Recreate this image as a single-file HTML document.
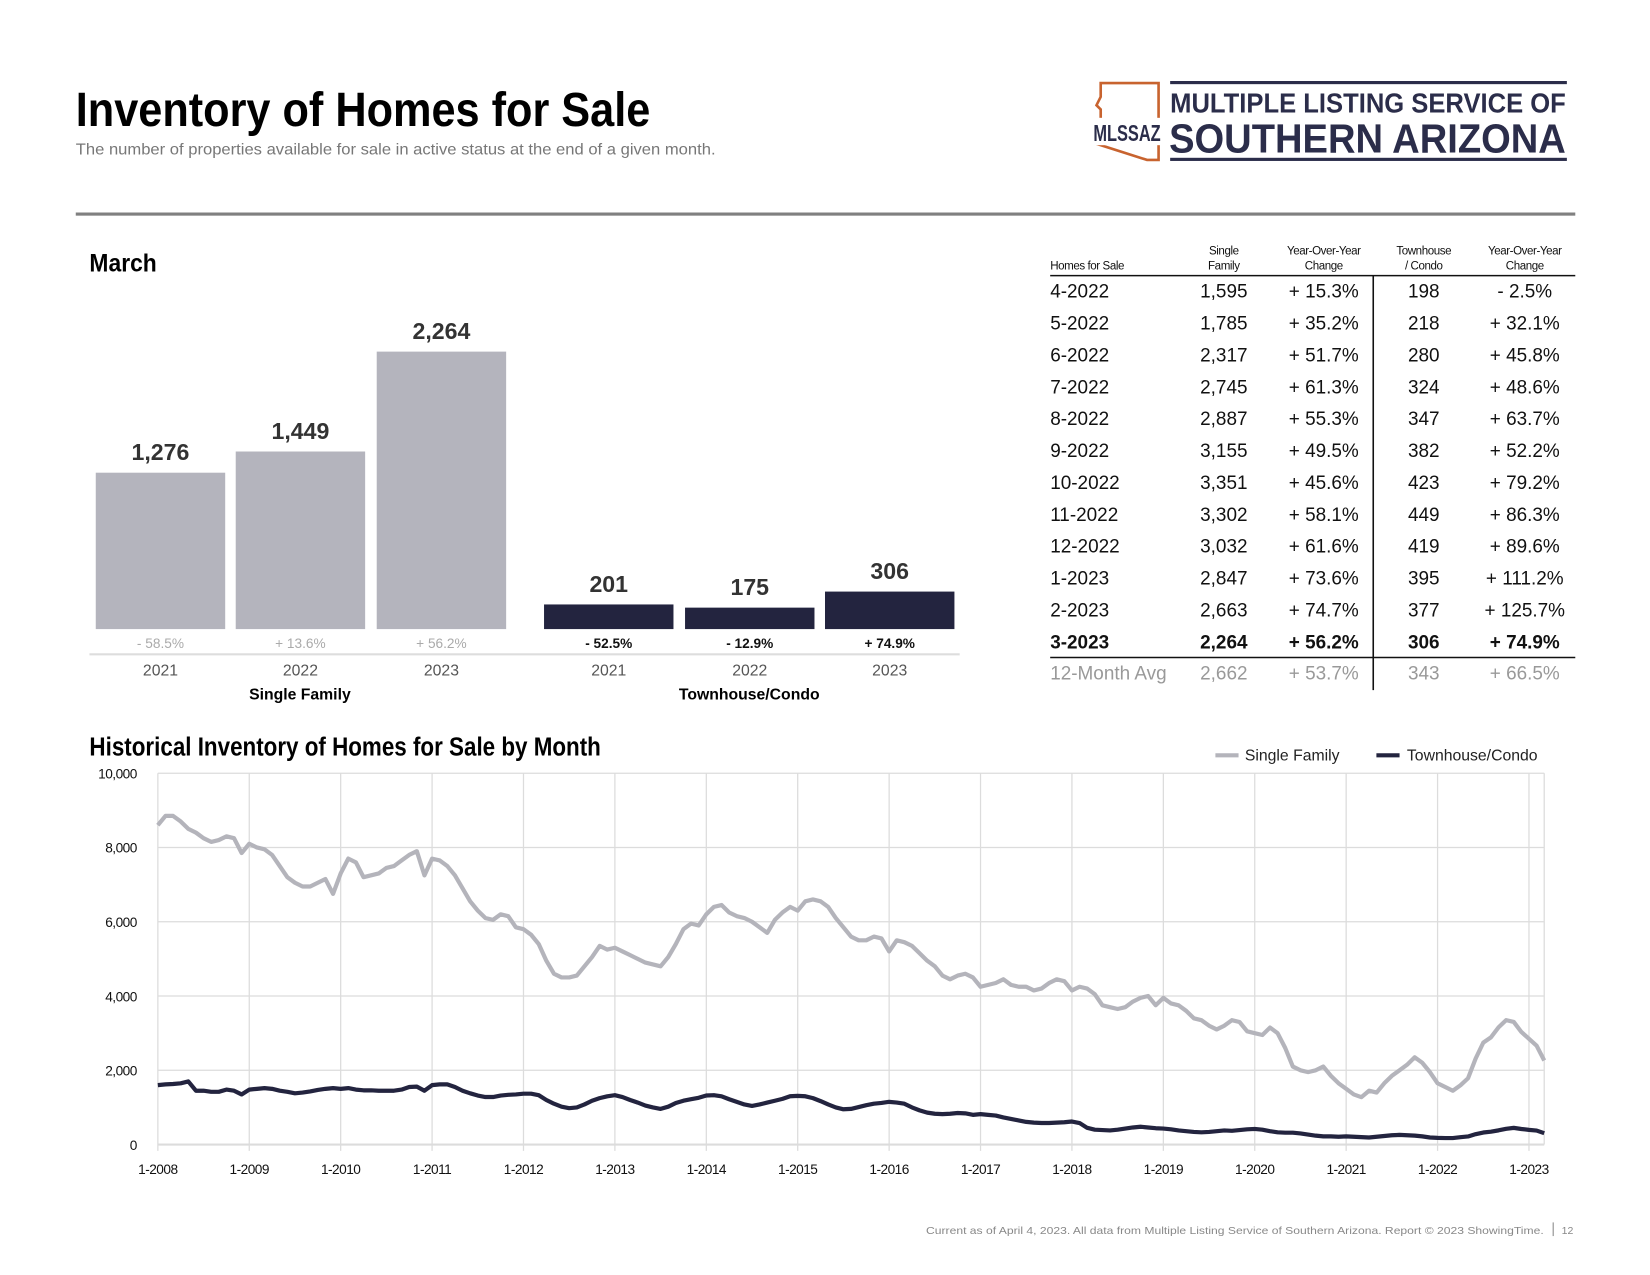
<!DOCTYPE html>
<html><head><meta charset="utf-8">
<style>
html,body{margin:0;padding:0;background:#fff;}
svg{display:block;font-family:"Liberation Sans",sans-serif;}
.narrow{font-family:"Liberation Sans Narrow","Liberation Sans",sans-serif;}
</style></head>
<body>
<svg id="page" width="1650" height="1275" viewBox="0 0 1568 1212" preserveAspectRatio="none" xmlns="http://www.w3.org/2000/svg">
  <text class="narrow" x="72" y="120" font-size="46" font-weight="bold" fill="#000" textLength="546" lengthAdjust="spacingAndGlyphs">Inventory of Homes for Sale</text>
  <text class="narrow" x="72" y="147" font-size="15" fill="#777" textLength="608" lengthAdjust="spacingAndGlyphs">The number of properties available for sale in active status at the end of a given month.</text>
  <g>
    <path d="M1046 79 L1101 79 L1101 152 L1090 152 L1043 137 L1043 128 L1046 124 L1046 104 L1042 100 L1046 92 Z" fill="none" stroke="#c8632f" stroke-width="2.5"/>
    <rect x="1038" y="112" width="66" height="26" fill="#fff"/>
    <text x="1071" y="134" class="narrow" font-size="22" font-weight="bold" fill="#2b2d4a" text-anchor="middle" textLength="64" lengthAdjust="spacingAndGlyphs">MLSSAZ</text>
    <rect x="1112" y="77" width="377" height="3" fill="#2b2d4a"/>
    <rect x="1112" y="150" width="377" height="3" fill="#2b2d4a"/>
    <text x="1112" y="107" class="narrow" font-size="26" font-weight="bold" fill="#2b2d4a" textLength="376" lengthAdjust="spacingAndGlyphs">MULTIPLE LISTING SERVICE OF</text>
    <text x="1111" y="145" class="narrow" font-size="39" font-weight="bold" fill="#2b2d4a" textLength="377" lengthAdjust="spacingAndGlyphs">SOUTHERN ARIZONA</text>
  </g>
  <rect x="72" y="202" width="1425" height="3" fill="#808080"/>

  <text class="narrow" x="85" y="258" font-size="24" font-weight="bold" fill="#000" textLength="64" lengthAdjust="spacingAndGlyphs">March</text>
  <g id="bars"></g>

  <g id="table"></g>

  <text class="narrow" x="85" y="718" font-size="25" font-weight="bold" fill="#000" textLength="486" lengthAdjust="spacingAndGlyphs">Historical Inventory of Homes for Sale by Month</text>
  <g>
    <g>
      <line x1="1155" y1="718" x2="1177" y2="718" stroke="#b4b4bb" stroke-width="4"/>
      <text x="1183" y="723" font-size="15" fill="#222">Single Family</text>
    </g>
    <g>
      <line x1="1308" y1="718" x2="1330" y2="718" stroke="#23243f" stroke-width="4"/>
      <text x="1337" y="723" font-size="15" fill="#222">Townhouse/Condo</text>
    </g>
  </g>
  <g id="line"></g>

  <text x="1467" y="1173" font-size="10" fill="#888" text-anchor="end" textLength="587" lengthAdjust="spacingAndGlyphs">Current as of April 4, 2023. All data from Multiple Listing Service of Southern Arizona. Report © 2023 ShowingTime.</text>
  <line x1="1476" y1="1162" x2="1476" y2="1175" stroke="#888" stroke-width="1"/>
  <text x="1484" y="1173" font-size="10" fill="#888">12</text>
</svg>
<script>
const NS = "http://www.w3.org/2000/svg";
// ---- bar chart data ----
const barYears = ["2021", "2022", "2023"];
const sfValues = [1276, 1449, 2264];
const sfChanges = ["- 58.5%", "+ 13.6%", "+ 56.2%"];
const thValues = [201, 175, 306];
const thChanges = ["- 52.5%", "- 12.9%", "+ 74.9%"];
// ---- table data ----
const tableMonths = ["4-2022","5-2022","6-2022","7-2022","8-2022","9-2022","10-2022","11-2022","12-2022","1-2023","2-2023","3-2023"];
const tableSF = ["1,595","1,785","2,317","2,745","2,887","3,155","3,351","3,302","3,032","2,847","2,663","2,264"];
const tableSFChg = ["+ 15.3%","+ 35.2%","+ 51.7%","+ 61.3%","+ 55.3%","+ 49.5%","+ 45.6%","+ 58.1%","+ 61.6%","+ 73.6%","+ 74.7%","+ 56.2%"];
const tableTH = ["198","218","280","324","347","382","423","449","419","395","377","306"];
const tableTHChg = ["- 2.5%","+ 32.1%","+ 45.8%","+ 48.6%","+ 63.7%","+ 52.2%","+ 79.2%","+ 86.3%","+ 89.6%","+ 111.2%","+ 125.7%","+ 74.9%"];
const tableAvg = ["12-Month Avg","2,662","+ 53.7%","343","+ 66.5%"];
// ---- line chart data (monthly, 1-2008 .. 3-2023) ----
const xTickLabels = ["1-2008","1-2009","1-2010","1-2011","1-2012","1-2013","1-2014","1-2015","1-2016","1-2017","1-2018","1-2019","1-2020","1-2021","1-2022","1-2023"];
const yTickValues = [0, 2000, 4000, 6000, 8000, 10000];
const singleFamily = [
8600,8850,8850,8700,8500,8400,8250,8150,8200,8300,8250,7850,
8100,8000,7950,7800,7500,7200,7050,6950,6950,7050,7150,6750,
7300,7700,7600,7200,7250,7300,7450,7500,7650,7800,7900,7250,
7700,7650,7500,7250,6900,6550,6300,6100,6050,6200,6150,5850,
5800,5650,5400,4950,4600,4500,4500,4550,4800,5050,5350,5250,
5300,5200,5100,5000,4900,4850,4800,5050,5400,5800,5950,5900,
6200,6400,6450,6250,6150,6100,6000,5850,5700,6050,6250,6400,
6300,6550,6600,6550,6400,6100,5850,5600,5500,5500,5600,5550,
5200,5500,5450,5350,5150,4950,4800,4550,4450,4550,4600,4500,
4250,4300,4350,4450,4300,4250,4250,4150,4200,4350,4450,4400,
4150,4250,4200,4050,3750,3700,3650,3700,3850,3950,4000,3750,
3950,3800,3750,3600,3400,3350,3200,3100,3200,3350,3300,3050,
3000,2950,3150,3000,2600,2100,2000,1950,2000,2100,1850,1650,
1500,1350,1276,1450,1400,1650,1850,2000,2150,2350,2200,1950,
1650,1550,1449,1595,1785,2317,2745,2887,3155,3351,3302,3032,
2847,2663,2264];
const townhouse = [
1600,1620,1630,1650,1700,1450,1450,1420,1420,1480,1450,1350,
1480,1500,1520,1500,1450,1420,1380,1400,1430,1470,1500,1520,
1500,1520,1480,1460,1460,1450,1450,1450,1480,1550,1560,1450,
1600,1620,1620,1550,1450,1380,1320,1280,1280,1320,1340,1350,
1370,1370,1330,1200,1100,1020,980,1000,1080,1180,1250,1300,
1330,1280,1200,1130,1050,1000,960,1020,1120,1180,1220,1260,
1320,1330,1300,1220,1150,1080,1040,1080,1130,1180,1230,1300,
1310,1300,1250,1170,1080,1000,950,960,1010,1060,1100,1120,
1150,1130,1100,1000,920,860,830,820,830,850,840,800,
820,800,780,730,690,650,610,590,580,580,590,600,
620,580,450,400,390,380,400,430,460,480,460,440,
430,410,380,360,340,330,340,360,380,370,390,410,
420,400,360,330,320,320,300,270,240,220,220,210,
220,210,201,190,210,230,250,260,250,240,220,190,
180,175,175,198,218,280,324,347,382,423,449,419,
395,377,306];

function mk(tag, attrs, parent, text) {
  const e = document.createElementNS(NS, tag);
  for (const k in attrs) e.setAttribute(k, attrs[k]);
  if (text !== undefined) e.textContent = text;
  parent.appendChild(e);
  return e;
}

// ---- bars ----
const bars = document.getElementById('bars');
const barBase = 598, barScale = 0.1165, barW = 123;
const sfX = [91, 224, 358], thX = [517, 651, 784];
function barY(v) { return barBase - v * barScale; }
function drawGroup(vals, chg, xs, color, pctColor, pctWeight, key) {
  vals.forEach((v, i) => {
    const r = mk('rect', {x: xs[i], y: barY(v), width: barW, height: barBase - barY(v), fill: color}, bars);
    
    
    const t = mk('text', {x: xs[i] + barW / 2, y: barY(v) - 12, 'font-size': 22, 'font-weight': 'bold', fill: '#333', 'text-anchor': 'middle'}, bars, v.toLocaleString('en-US'));
    
    
    const p = mk('text', {x: xs[i] + barW / 2, y: 616, 'font-size': 13, 'font-weight': pctWeight, fill: pctColor, 'text-anchor': 'middle'}, bars, chg[i]);
    
    
    const y = mk('text', {x: xs[i] + barW / 2, y: 642, 'font-size': 15, fill: '#555', 'text-anchor': 'middle'}, bars, barYears[i]);
    
    
  });
}
drawGroup(sfValues, sfChanges, sfX, '#b4b4bd', '#aaa', 'normal', 'single-family');
drawGroup(thValues, thChanges, thX, '#23243f', '#111', 'bold', 'townhouse');
const ax = mk('line', {x1: 85, y1: 622, x2: 912, y2: 622, stroke: '#ddd', 'stroke-width': 2}, bars);


const g1 = mk('text', {x: 285, y: 665, 'font-size': 15, 'font-weight': 'bold', fill: '#000', 'text-anchor': 'middle'}, bars, 'Single Family');


const g2 = mk('text', {x: 712, y: 665, 'font-size': 15, 'font-weight': 'bold', fill: '#000', 'text-anchor': 'middle'}, bars, 'Townhouse/Condo');



// ---- table ----
const tbl = document.getElementById('table');
const colX = [998, 1163, 1258, 1353, 1449];
const heads = [["Homes for Sale"], ["Single", "Family"], ["Year-Over-Year", "Change"], ["Townhouse", "/ Condo"], ["Year-Over-Year", "Change"]];
heads.forEach((h, i) => {
  h.forEach((line, j) => {
    const y = h.length === 1 ? 256 : 242 + j * 14;
    const t = mk('text', {x: colX[i], y: y, 'font-size': 11, fill: '#111', 'text-anchor': i === 0 ? 'start' : 'middle', 'letter-spacing': '-0.4'}, tbl, line);
    
    
  });
});
const hl = mk('line', {x1: 998, y1: 262, x2: 1497, y2: 262, stroke: '#111', 'stroke-width': 1.5}, tbl);


const vl = mk('line', {x1: 1305, y1: 262, x2: 1305, y2: 656, stroke: '#111', 'stroke-width': 1.5}, tbl);


tableMonths.forEach((m, r) => {
  const y = 283 + r * 30.3;
  const bold = r === tableMonths.length - 1;
  const cells = [m, tableSF[r], tableSFChg[r], tableTH[r], tableTHChg[r]];
  cells.forEach((c, i) => {
    const t = mk('text', {x: colX[i], y: y, 'font-size': 18, fill: '#111', 'font-weight': bold ? 'bold' : 'normal', 'text-anchor': i === 0 ? 'start' : 'middle'}, tbl, c);
    
    
  });
});
const bl = mk('line', {x1: 998, y1: 625, x2: 1497, y2: 625, stroke: '#111', 'stroke-width': 1.5}, tbl);


tableAvg.forEach((c, i) => {
  const t = mk('text', {x: colX[i], y: 646, 'font-size': 18, fill: '#999', 'text-anchor': i === 0 ? 'start' : 'middle'}, tbl, c);
  
  
});

// ---- line chart ----
const lc = document.getElementById('line');
const x0 = 150, monthW = (1453 - 150) / 180, yZero = 1088, yTop = 735, yMax = 10000;
function xm(i) { return x0 + i * monthW; }
function yv(v) { return yZero - (v / yMax) * (yZero - yTop); }
const lastX = xm(singleFamily.length - 1);
yTickValues.forEach(v => {
  const l = mk('line', {x1: x0, y1: yv(v), x2: lastX, y2: yv(v), stroke: '#dcdcdc', 'stroke-width': v === 0 ? 2 : 1.2}, lc);
  
  
  const t = mk('text', {x: 130, y: yv(v) + 5, 'font-size': 13, fill: '#111', 'text-anchor': 'end', 'letter-spacing': '-0.5'}, lc, v.toLocaleString('en-US'));
  
  
});
xTickLabels.forEach((lab, i) => {
  const x = xm(i * 12);
  const l = mk('line', {x1: x, y1: yTop, x2: x, y2: yZero + 6, stroke: '#dcdcdc', 'stroke-width': 1.2}, lc);
  
  
  const t = mk('text', {x: x, y: 1116, 'font-size': 13, fill: '#111', 'text-anchor': 'middle', 'letter-spacing': '-0.5'}, lc, lab);
  
  
});
const rb = mk('line', {x1: lastX, y1: yTop, x2: lastX, y2: yZero, stroke: '#dcdcdc', 'stroke-width': 1.2}, lc);


function path(vals) { return vals.map((v, i) => (i ? 'L' : 'M') + xm(i).toFixed(2) + ' ' + yv(v).toFixed(2)).join(' '); }
const sfl = mk('path', {d: path(singleFamily), fill: 'none', stroke: '#b4b4bb', 'stroke-width': 4, 'stroke-linejoin': 'round'}, lc);


const thl = mk('path', {d: path(townhouse), fill: 'none', stroke: '#23243f', 'stroke-width': 4, 'stroke-linejoin': 'round'}, lc);


</script>
</body></html>
